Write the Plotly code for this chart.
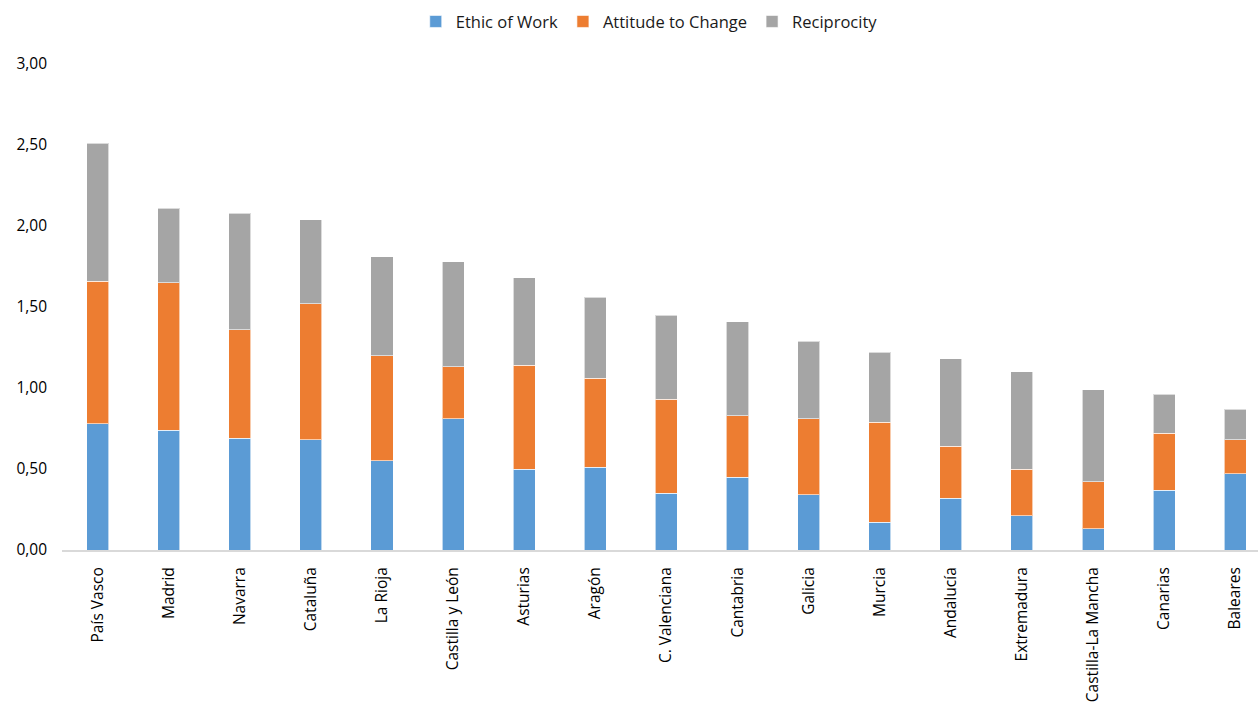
import plotly.graph_objects as go

regions = ["País Vasco", "Madrid", "Navarra", "Cataluña", "La Rioja",
           "Castilla y León", "Asturias", "Aragón", "C. Valenciana", "Cantabria",
           "Galicia", "Murcia", "Andalucía", "Extremadura", "Castilla-La Mancha",
           "Canarias", "Baleares"]

ethic_of_work = [0.78, 0.74, 0.69, 0.68, 0.55, 0.81, 0.50, 0.51, 0.35, 0.45,
                 0.34, 0.17, 0.32, 0.21, 0.13, 0.37, 0.47]
attitude_to_change = [0.88, 0.91, 0.67, 0.84, 0.65, 0.32, 0.64, 0.55, 0.58, 0.38,
                      0.47, 0.62, 0.32, 0.29, 0.29, 0.35, 0.21]
reciprocity = [0.85, 0.46, 0.72, 0.52, 0.61, 0.65, 0.54, 0.50, 0.52, 0.58,
               0.48, 0.43, 0.54, 0.60, 0.57, 0.24, 0.19]

y_ticks = [0, 0.5, 1.0, 1.5, 2.0, 2.5, 3.0]

series = [
    ("Ethic of Work", ethic_of_work, "#5B9BD5"),
    ("Attitude to Change", attitude_to_change, "#ED7D31"),
    ("Reciprocity", reciprocity, "#A5A5A5"),
]

font_family = "'Open Sans', sans-serif"

fig = go.Figure()
for name, vals, color in series:
    fig.add_trace(go.Bar(
        x=regions, y=vals, name=name, width=0.31,
        marker=dict(color=color, line=dict(color="rgba(255,255,255,0.6)", width=1)),
    ))

fig.update_layout(
    barmode="stack",
    width=1258, height=702,
    margin=dict(l=62, r=0, t=64, b=152),
    plot_bgcolor="white", paper_bgcolor="white",
    separators=",.",
    font=dict(family=font_family, size=15, color="#262626"),
    legend=dict(orientation="h", x=0.491, xanchor="center", y=1.087, yanchor="middle",
                font=dict(size=16.5, color="#1a1a1a"), traceorder="normal",
                itemwidth=30),
    xaxis=dict(
        range=[-0.5, 16.32], tickangle=-90, showgrid=False,
        showline=True, linecolor="#D9D9D9", linewidth=2,
        ticks="", ticklabelstandoff=9,
        tickfont=dict(size=15.5, color="#000000"),
    ),
    yaxis=dict(
        range=[0, 3.0], tickvals=y_ticks, tickformat=".2f",
        showgrid=False, zeroline=False, showline=False,
        ticks="", ticklabelstandoff=14,
        tickfont=dict(size=15.5, color="#000000"),
    ),
)

fig.write_html("out.html")
